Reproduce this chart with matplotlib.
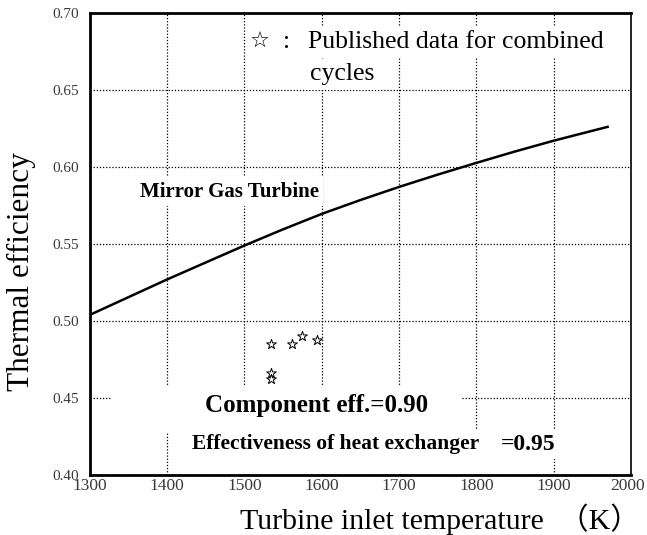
import matplotlib
matplotlib.use('Agg')
import matplotlib.pyplot as plt
import matplotlib.transforms as mtransforms
from matplotlib.patches import Rectangle

matplotlib.rcParams['font.family'] = ['Liberation Serif', 'Noto Sans CJK JP']
matplotlib.rcParams['font.size'] = 11

# Mirror gas turbine efficiency curve
temps = [1300, 1400, 1500, 1550, 1600, 1650, 1700, 1750, 1800, 1850, 1900, 1970]
effs = [0.504, 0.527, 0.549, 0.5595, 0.5695, 0.5785, 0.587, 0.595, 0.6026, 0.610, 0.617, 0.626]

# published combined cycle points
pub_t = [1534, 1534, 1534, 1562, 1574, 1594]
pub_eff = [0.485, 0.466, 0.4623, 0.485, 0.490, 0.4877]

xticks = [1300, 1400, 1500, 1600, 1700, 1800, 1900, 2000]
yticks = [0.40, 0.45, 0.50, 0.55, 0.60, 0.65, 0.70]

fig = plt.figure(figsize=(6.47, 5.35), dpi=100)
ax = fig.add_axes([0.139, 0.112, 0.836, 0.864])

ax.plot(temps, effs, color='black', lw=1.8, zorder=3)
ax.scatter(pub_t, pub_eff, marker='*', s=55, facecolors='white',
           edgecolors='black', linewidths=0.7, zorder=4)

ax.set_xlim(1300, 2000)
ax.set_ylim(0.40, 0.70)
ax.set_xticks(xticks)
ax.set_yticks(yticks)
ax.set_xticklabels([str(t) for t in xticks])
ax.set_yticklabels(['%.2f' % y for y in yticks])
ax.tick_params(length=0, labelcolor='#3a3a3a')
ax.tick_params(axis='x', labelsize=12.5, pad=2)
ax.tick_params(axis='y', labelsize=11, pad=8)
ax.grid(True, color='black', linestyle=(0, (1, 1.5)), lw=0.9, zorder=1)

# last x label sits against the right edge of the figure
last = ax.get_xticklabels()[-1]
last.set_horizontalalignment('right')
last.set_transform(last.get_transform() +
                   mtransforms.ScaledTranslation(0.14, 0, fig.dpi_scale_trans))

for side in ['left', 'bottom', 'top']:
    ax.spines[side].set_linewidth(2.0)
ax.spines['right'].set_linewidth(1.2)

# blank areas behind the annotation block at the bottom
ax.add_patch(Rectangle((1329, 0.428), 453, 0.0305, facecolor='white',
                       edgecolor='none', zorder=2))
ax.add_patch(Rectangle((1420, 0.401), 460, 0.027, facecolor='white',
                       edgecolor='none', zorder=2))

fig.text(0.033, 0.493, 'Thermal efficiency', fontsize=22.5, rotation=90,
         ha='center', va='center')
fig.text(0.371, 0.03, 'Turbine inlet temperature  （K）', fontsize=21.5,
         ha='left', va='center')

white = dict(facecolor='white', edgecolor='none', pad=3)
ax.text(1507, 0.681, '☆', fontsize=16, family=['DejaVu Sans'], va='center',
        ha='left', bbox=white, zorder=5)
ax.text(1550, 0.681, ':', fontsize=18.5, va='center', ha='left',
        bbox=white, zorder=5)
ax.text(1582, 0.681, 'Published data for combined', fontsize=18.5,
        va='center', ha='left', bbox=white, zorder=5)
ax.text(1585, 0.660, 'cycles', fontsize=18.5, va='center', ha='left',
        bbox=white, zorder=5)
ax.text(1365, 0.584, 'Mirror Gas Turbine', fontsize=15, fontweight='bold',
        va='center', ha='left', bbox=white, zorder=5)
ax.text(1449, 0.445, 'Component eff.=0.90', fontsize=18, fontweight='bold',
        va='center', ha='left', bbox=white, zorder=5)
ax.text(1432, 0.420, 'Effectiveness of heat exchanger', fontsize=15.5,
        fontweight='bold', va='center', ha='left', bbox=white, zorder=5)
ax.text(1832, 0.420, '=0.95', fontsize=17, fontweight='bold',
        va='center', ha='left', bbox=white, zorder=5)

fig.savefig('out.png', dpi=100)
